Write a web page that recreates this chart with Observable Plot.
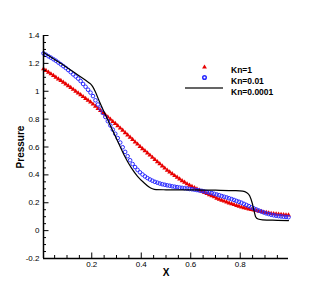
<!DOCTYPE html>
<html><head><meta charset="utf-8">
<script src="https://cdn.jsdelivr.net/npm/d3@7"></script>
<script src="https://cdn.jsdelivr.net/npm/@observablehq/plot@0.6"></script>
<style>
body{margin:0;background:#fff;}
g[aria-label="x-axis label"] text, g[aria-label="y-axis label"] text {font-weight:bold;font-size:10px;}
</style></head><body><div id="chart"></div>
<script>
const xs = [0.005,0.015,0.025,0.035,0.045,0.055,0.065,0.075,0.085,0.095,
0.105,0.115,0.125,0.135,0.145,0.155,0.165,0.175,0.185,0.195,
0.205,0.215,0.225,0.235,0.245,0.255,0.265,0.275,0.285,0.295,
0.305,0.315,0.325,0.335,0.345,0.355,0.365,0.375,0.385,0.395,
0.405,0.415,0.425,0.435,0.445,0.455,0.465,0.475,0.485,0.495,
0.505,0.515,0.525,0.535,0.545,0.555,0.565,0.575,0.585,0.595,
0.605,0.615,0.625,0.635,0.645,0.655,0.665,0.675,0.685,0.695,
0.705,0.715,0.725,0.735,0.745,0.755,0.765,0.775,0.785,0.795,
0.805,0.815,0.825,0.835,0.845,0.855,0.865,0.875,0.885,0.895,
0.905,0.915,0.925,0.935,0.945,0.955,0.965,0.975,0.985,0.995];
const pKn1 = [1.160,1.148,1.136,1.124,1.112,1.100,1.088,1.076,1.064,1.051,
1.039,1.026,1.013,1.000,0.987,0.974,0.961,0.948,0.935,0.922,
0.907,0.892,0.876,0.861,0.845,0.830,0.814,0.799,0.783,0.768,
0.752,0.735,0.719,0.702,0.686,0.669,0.653,0.636,0.620,0.603,
0.587,0.572,0.556,0.541,0.525,0.510,0.494,0.479,0.463,0.448,
0.433,0.420,0.407,0.394,0.382,0.370,0.358,0.346,0.335,0.325,
0.316,0.307,0.298,0.289,0.281,0.273,0.265,0.257,0.249,0.242,
0.232,0.225,0.218,0.211,0.205,0.198,0.192,0.186,0.180,0.174,
0.168,0.164,0.159,0.155,0.151,0.147,0.143,0.139,0.136,0.132,
0.129,0.126,0.123,0.121,0.119,0.117,0.115,0.113,0.112,0.111];
const pKn001 = [1.272,1.262,1.251,1.241,1.230,1.219,1.206,1.193,1.180,1.167,
1.152,1.137,1.121,1.106,1.091,1.073,1.052,1.032,1.011,0.990,
0.965,0.935,0.905,0.875,0.845,0.815,0.785,0.755,0.725,0.695,
0.664,0.632,0.598,0.565,0.534,0.505,0.478,0.456,0.436,0.418,
0.403,0.389,0.377,0.367,0.358,0.350,0.344,0.338,0.333,0.329,
0.325,0.322,0.318,0.315,0.312,0.309,0.307,0.304,0.302,0.299,
0.297,0.294,0.291,0.288,0.285,0.281,0.277,0.273,0.269,0.264,
0.259,0.254,0.248,0.243,0.238,0.232,0.226,0.220,0.213,0.207,
0.200,0.192,0.184,0.176,0.167,0.159,0.152,0.144,0.137,0.130,
0.124,0.119,0.114,0.110,0.107,0.104,0.102,0.100,0.098,0.096];
const lineX = [0.005,0.05,0.1,0.15,0.183,0.195,0.205,0.215,0.23,0.257,0.28,0.3,0.33,0.36,0.385,0.41,0.43,0.445,0.46,0.5,0.6,0.7,0.78,0.81,0.825,0.838,0.848,0.856,0.862,0.872,0.89,0.95,0.995];
const pKn00001 = [1.28,1.228,1.170,1.11,1.068,1.053,1.03,0.995,0.93,0.825,0.735,0.66,0.545,0.45,0.39,0.345,0.315,0.300,0.294,0.293,0.292,0.29,0.287,0.283,0.274,0.25,0.2,0.14,0.1,0.083,0.077,0.074,0.072];

const xMajor = [0.2,0.4,0.6,0.8];
const xMajorLabels = ["0.2","0.4","0.6","0.8"];
const xMinor = [0.05,0.1,0.15,0.25,0.3,0.35,0.45,0.5,0.55,0.65,0.7,0.75,0.85,0.9,0.95];
const yMajor = [-0.2,0,0.2,0.4,0.6,0.8,1,1.2,1.4];
const yMajorLabels = ["-0.2","0","0.2","0.4","0.6","0.8","1","1.2","1.4"];
const yMinor = [-0.15,-0.1,-0.05,0.05,0.1,0.15,0.25,0.3,0.35,0.45,0.5,0.55,0.65,0.7,0.75,0.85,0.9,0.95,1.05,1.1,1.15,1.25,1.3,1.35];
const xDomain = [0.005, 0.995];
const yDomain = [-0.2, 1.4];
const xLabel = "X";
const yLabel = "Pressure";
const legendNames = ["Kn=1","Kn=0.01","Kn=0.0001"];
const seriesColors = ["#e80000","#2a2aff","#000000"];

const red = xs.map((x,i)=>({x, p:pKn1[i]}));
const blue = xs.map((x,i)=>({x, p:pKn001[i]}));
const black = lineX.map((x,i)=>({x, p:pKn00001[i]}));

const W = 327, H = 291, mL = 43, mR = 39, mT = 35, mB = 33;
const fw = W - mL - mR, fh = H - mT - mB;
const legX = 161, legDy = [31.7, 42, 53];

const chart = Plot.plot({
  width: W, height: H,
  marginLeft: mL, marginRight: mR, marginTop: mT, marginBottom: mB,
  x: {domain: xDomain},
  y: {domain: yDomain},
  style: {fontFamily: "'Liberation Sans', Arial, sans-serif", fontSize: "8px", color: "black", background: "white"},
  marks: [
    Plot.dot(red, {x: "x", y: "p", symbol: "triangle", fill: seriesColors[0], r: 1.8}),
    Plot.dot(blue, {x: "x", y: "p", symbol: "circle", stroke: seriesColors[1], fill: "none", r: 1.8, strokeWidth: 1}),
    Plot.line(black, {x: "x", y: "p", stroke: seriesColors[2], strokeWidth: 1.2, curve: "monotone-x"}),
    Plot.tickY(yMajor, {y: d => d, insetRight: fw - 5.5, stroke: "black", strokeWidth: 1}),
    Plot.tickY(yMinor, {y: d => d, insetRight: fw - 3, stroke: "black", strokeWidth: 1}),
    Plot.tickX(xMajor, {x: d => d, insetTop: fh - 5.5, stroke: "black", strokeWidth: 1}),
    Plot.tickX(xMinor, {x: d => d, insetTop: fh - 3, stroke: "black", strokeWidth: 1}),
    Plot.ruleX([xDomain[0]], {stroke: "black", strokeWidth: 1.5}),
    Plot.ruleY([yDomain[0]], {stroke: "black", strokeWidth: 1.5}),
    Plot.axisY({ticks: yMajor, tickSize: 0, tickPadding: 4, tickFormat: d => yMajorLabels[yMajor.indexOf(d)], label: yLabel, labelAnchor: "center", labelOffset: 27, labelArrow: "none"}),
    Plot.axisX({ticks: xMajor, tickSize: 0, tickPadding: 3, tickFormat: d => xMajorLabels[xMajor.indexOf(d)], label: xLabel, labelAnchor: "center", labelOffset: 17, labelArrow: "none"}),
    Plot.dot([legendNames[0]], {frameAnchor: "top-left", dx: legX, dy: legDy[0], symbol: "triangle", fill: seriesColors[0], r: 1.8}),
    Plot.dot([legendNames[1]], {frameAnchor: "top-left", dx: legX, dy: legDy[1], symbol: "circle", stroke: seriesColors[1], fill: "none", r: 1.8}),
    Plot.rect([legendNames[2]], {insetLeft: 142, insetRight: fw - 180, insetTop: legDy[2] - 0.6, insetBottom: fh - legDy[2] - 0.6, fill: seriesColors[2]}),
    ...legendNames.map((name, i) => Plot.text([name], {text: d => d, frameAnchor: "top-left", dx: 187.5, dy: legDy[i], textAnchor: "start", fontWeight: "bold", fontSize: 8.5, fill: "black"}))
  ]
});
document.getElementById("chart").appendChild(chart);
</script>
</body></html>
